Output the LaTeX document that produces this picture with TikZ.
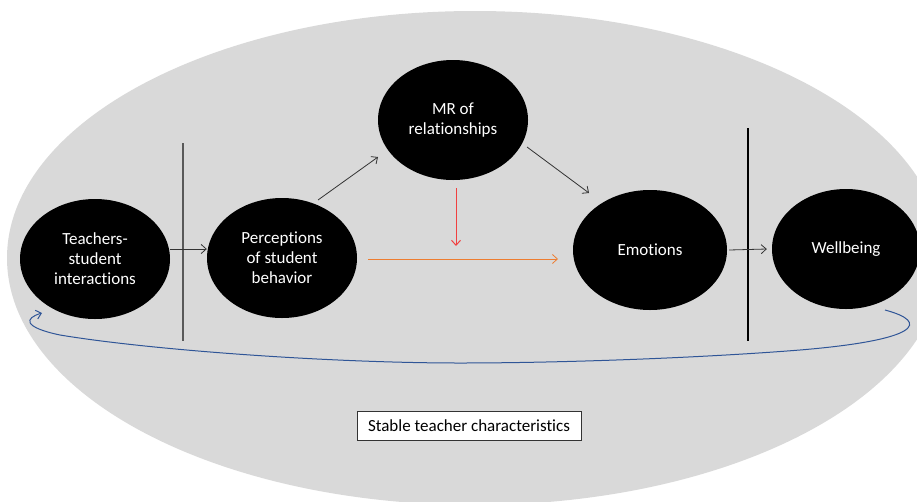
\documentclass[tikz,border=0pt]{standalone}
\usepackage{fontspec}
\setmainfont[Ligatures=NoCommon]{Carlito}
\usetikzlibrary{shapes.geometric,arrows.meta,calc}
\definecolor{bggray}{HTML}{D9D9D9}
\definecolor{curveblue}{HTML}{2F5597}
\definecolor{arrorange}{HTML}{ED7D31}
\definecolor{arrred}{HTML}{F04040}
\begin{document}
\begin{tikzpicture}[x=1pt,y=-1pt,
  bub/.style={ellipse, fill=black, text=white, minimum width=150pt, minimum height=120pt,
    inner sep=0pt, align=center, font=\fontsize{17}{20}\selectfont},
  tip/.style={-{Straight Barb[length=5pt,width=9pt]}},
  arr/.style={tip, line width=0.8pt, draw=black!80},
  divider/.style={line width=1.1pt},
  labelbox/.style={draw=black!80, fill=white, line width=0.8pt, minimum width=224pt,
    minimum height=29pt, inner sep=0pt, font=\fontsize{17}{20}\selectfont}]
\useasboundingbox (0,0) rectangle (917,501);
\begin{scope}
  \clip (0,0) rectangle (917,501);
  \fill[bggray] (475,258) ellipse [x radius=468pt, y radius=247pt];
\end{scope}

\node[bub] (t) at (95,259) {Teachers-\\student\\interactions};
\node[bub] (p) at (282,258) {Perceptions\\of student\\behavior};
\node[bub] (m) at (453,120) {MR of\\relationships};
\node[bub, minimum width=154pt] (e) at (650,250) {Emotions};
\node[bub, minimum width=148pt] (w) at (846,249) {Wellbeing};

\coordinate (v1a) at (183,143);
\coordinate (v1b) at (183,341);
\coordinate (v2a) at (748,128);
\coordinate (v2b) at (748,341);
\draw[divider, black!65] (v1a) -- (v1b);
\draw[divider, black] (v2a) -- (v2b);

\draw[arr] ([yshift=10pt]t.east) -- ([yshift=9pt]p.west);
\draw[arr] ($(p.center)+(36,-58)$) -- ($(m.center)+(-75,37)$);
\draw[arr] ($(m.center)+(74,27)$) -- ($(e.center)+(-61,-57)$);
\draw[arr] ([xshift=2pt]e.east) -- ([xshift=-5pt,yshift=0pt]w.west);
\draw[tip, arrred, line width=1pt] ($(m.center)+(3,68)$) -- ($(m.center)+(3,126)$);
\draw[tip, arrorange, line width=0.8pt] ($(p.center)+(86,1)$) -- ($(e.center)+(-92,9)$);

\draw[tip, curveblue, line width=1pt]
  ($(w.center)+(39,61)$) .. controls (930,322) and (920,340) .. (800,350)
  .. controls (700,358) and (560,363) .. (460,363)
  .. controls (330,363) and (150,350) .. (60,335)
  .. controls (22,327) and (25,318) .. ($(t.center)+(-53,54)$);

\node[labelbox] (s) at (469,426) {Stable teacher characteristics};
\end{tikzpicture}
\end{document}
